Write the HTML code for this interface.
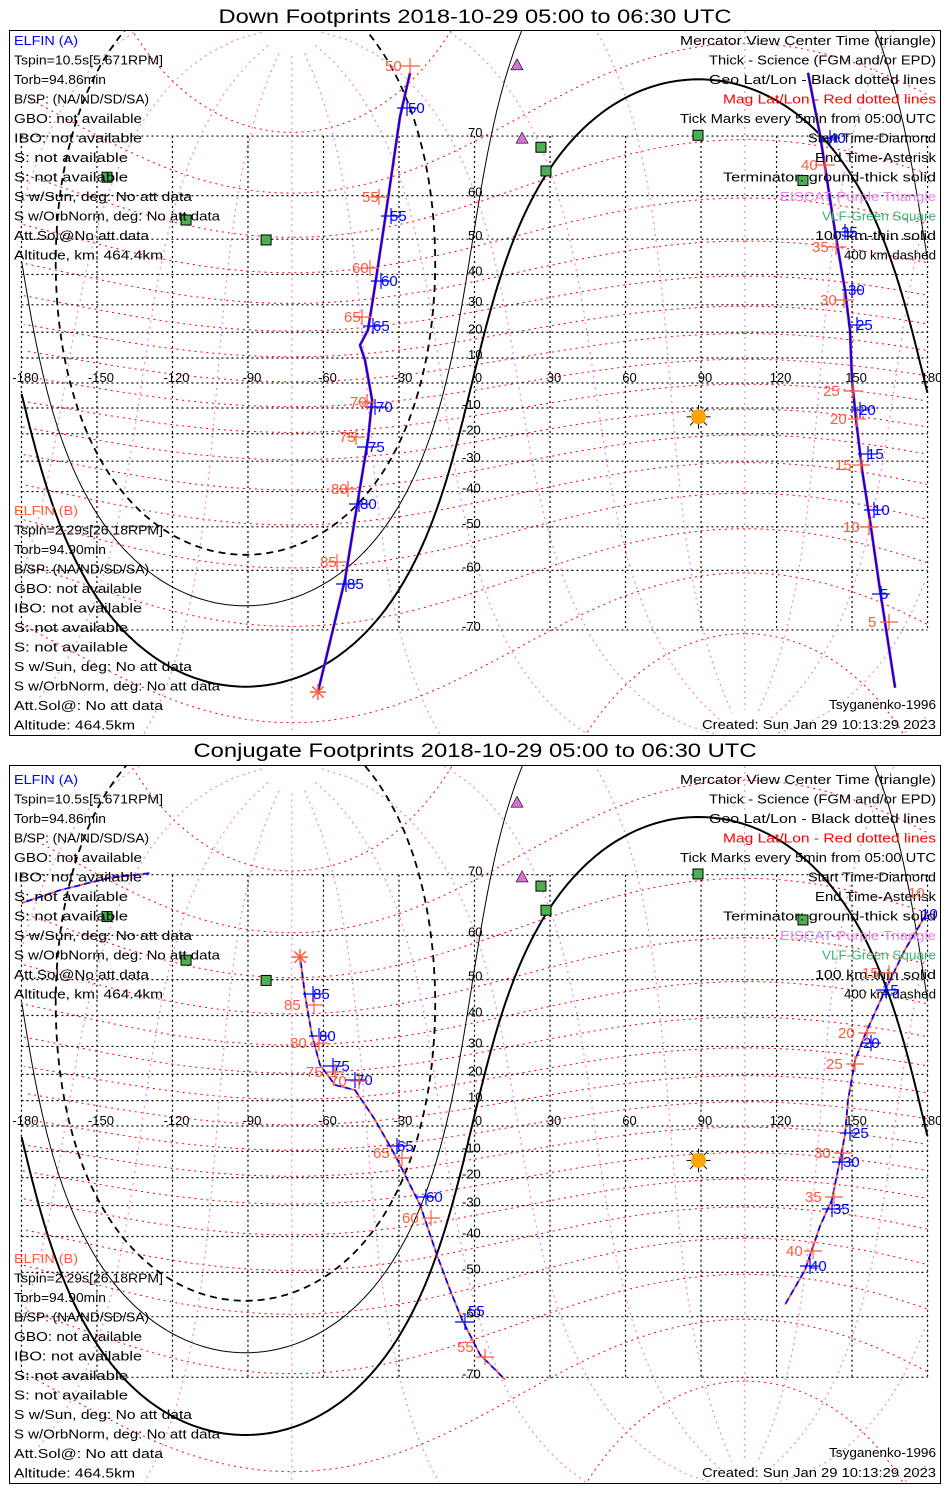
<!DOCTYPE html>
<html><head><meta charset="utf-8"><style>
html,body{margin:0;padding:0;background:#fff;overflow:hidden;width:950px;height:1500px;position:relative;}
svg{display:block;position:absolute;left:0;top:0;font-family:"Liberation Sans",sans-serif;}
.tk{font-size:15px;}
</style></head><body>
<svg id="chart" width="950" height="1500" viewBox="0 0 950 1500" xmlns="http://www.w3.org/2000/svg" overflow="hidden">
<defs>
<clipPath id="clip1"><rect x="10" y="31" width="930" height="703"/></clipPath>
<clipPath id="clip2"><rect x="10" y="766" width="930" height="716"/></clipPath>
</defs>
<rect x="0" y="0" width="950" height="1500" fill="#fff"/>
<text x="475" y="23" text-anchor="middle" font-size="19" textLength="513" lengthAdjust="spacingAndGlyphs">Down Footprints 2018-10-29 05:00 to 06:30 UTC</text>
<text x="475" y="757" text-anchor="middle" font-size="19" textLength="563" lengthAdjust="spacingAndGlyphs">Conjugate Footprints 2018-10-29 05:00 to 06:30 UTC</text>
<g id="p1" clip-path="url(#clip1)"></g>
<g id="p2" clip-path="url(#clip2)"></g>
<g id="ann"></g>
<rect x="9.5" y="30.5" width="931" height="705" fill="none" stroke="#000" stroke-width="1"/>
<rect x="9.5" y="765.5" width="931" height="718" fill="none" stroke="#000" stroke-width="1"/>

<g class="tk">
<text x="408" y="113" fill="#0000ff">50</text><text x="390" y="221" fill="#0000ff">55</text>
<text x="381" y="286" fill="#0000ff">60</text><text x="373" y="331" fill="#0000ff">65</text>
<text x="376" y="412" fill="#0000ff">70</text><text x="368" y="452" fill="#0000ff">75</text>
<text x="360" y="509" fill="#0000ff">80</text><text x="347" y="589" fill="#0000ff">85</text>
<text x="385" y="71" fill="#ff5a3c">50</text><text x="362" y="202" fill="#ff5a3c">55</text>
<text x="352" y="273" fill="#ff5a3c">60</text><text x="344" y="322" fill="#ff5a3c">65</text>
<text x="350" y="407" fill="#ff5a3c">70</text><text x="339" y="442" fill="#ff5a3c">75</text>
<text x="331" y="494" fill="#ff5a3c">80</text><text x="320" y="567" fill="#ff5a3c">85</text>
</g>
<g class="tk">
<text x="829" y="143" fill="#0000ff">40</text><text x="841" y="237" fill="#0000ff">35</text>
<text x="848" y="295" fill="#0000ff">30</text><text x="856" y="330" fill="#0000ff">25</text>
<text x="859" y="415" fill="#0000ff">20</text><text x="867" y="459" fill="#0000ff">15</text>
<text x="873" y="515" fill="#0000ff">10</text><text x="880" y="599" fill="#0000ff">5</text>
<text x="801" y="170" fill="#ff5a3c">40</text><text x="812" y="252" fill="#ff5a3c">35</text>
<text x="820" y="305" fill="#ff5a3c">30</text><text x="823" y="396" fill="#ff5a3c">25</text>
<text x="830" y="424" fill="#ff5a3c">20</text><text x="835" y="470" fill="#ff5a3c">15</text>
<text x="843" y="532" fill="#ff5a3c">10</text><text x="868" y="627" fill="#ff5a3c">5</text>
</g>
<g class="tk">
<text x="313" y="999" fill="#0000ff">85</text><text x="319" y="1041" fill="#0000ff">80</text>
<text x="333" y="1071" fill="#0000ff">75</text><text x="356" y="1085" fill="#0000ff">70</text>
<text x="397" y="1151" fill="#0000ff">65</text><text x="426" y="1202" fill="#0000ff">60</text>
<text x="468" y="1316" fill="#0000ff">55</text>
<text x="284" y="1010" fill="#ff5a3c">85</text><text x="290" y="1048" fill="#ff5a3c">80</text>
<text x="306" y="1077" fill="#ff5a3c">75</text><text x="330" y="1086" fill="#ff5a3c">70</text>
<text x="373" y="1158" fill="#ff5a3c">65</text><text x="402" y="1223" fill="#ff5a3c">60</text>
<text x="457" y="1352" fill="#ff5a3c">55</text>
</g>
<g class="tk">
<text x="921" y="919" fill="#0000ff">10</text><text x="882" y="995" fill="#0000ff">15</text>
<text x="863" y="1048" fill="#0000ff">20</text><text x="852" y="1138" fill="#0000ff">25</text>
<text x="843" y="1167" fill="#0000ff">30</text><text x="833" y="1214" fill="#0000ff">35</text>
<text x="810" y="1271" fill="#0000ff">40</text>
<text x="908" y="898" fill="#ff5a3c">10</text><text x="862" y="978" fill="#ff5a3c">15</text>
<text x="838" y="1038" fill="#ff5a3c">20</text><text x="826" y="1069" fill="#ff5a3c">25</text>
<text x="814" y="1158" fill="#ff5a3c">30</text><text x="805" y="1202" fill="#ff5a3c">35</text>
<text x="786" y="1256" fill="#ff5a3c">40</text>
</g>
<g stroke-width="1.2" fill="none">
<path stroke="#0000ff" d="M397,108h20M407,100v16M381,216h20M391,208v16M371,281h20M381,273v16M363,326h20M373,318v16M365,407h20M375,399v16M357,447h20M367,439v16M349,504h20M359,496v16M336,584h20M346,576v16"/>
<path stroke="#ff5a3c" d="M400,66h20M410,58v16M370,197h18M379,189v16M361,268h18M370,260v16M353,317h18M362,309v16M358,402h18M367,394v16M347,437h18M356,429v16M339,489h18M348,481v16M328,562h18M337,554v16"/>
<path stroke="#0000ff" d="M820,138h20M830,130v16M835,232h20M845,224v16M842,290h20M852,282v16M848,325h18M857,317v16M850,410h20M860,402v16M858,454h20M868,446v16M864,510h20M874,502v16M872,594h18M881,586v16"/>
<path stroke="#ff5a3c" d="M815,165h20M825,157v16M826,247h20M836,239v16M834,300h20M844,292v16M844,391h18M853,383v16M848,419h18M857,411v16M852,465h18M861,457v16M860,527h18M869,519v16M880,622h18M889,614v16"/>
<path stroke="#0000ff" d="M303,994h20M313,986v16M309,1036h20M319,1028v16M323,1066h20M333,1058v16M345,1080h20M355,1072v16M387,1146h20M397,1138v16M416,1197h20M426,1189v16M455,1322h20M465,1314v16"/>
<path stroke="#ff5a3c" d="M305,1005h18M314,997v16M310,1043h18M319,1035v16M326,1072h18M335,1064v16M350,1081h18M359,1073v16M393,1158h18M402,1150v16M422,1218h18M431,1210v16M476,1357h18M485,1349v16"/>
<path stroke="#0000ff" d="M876,990h20M886,982v16M861,1043h20M871,1035v16M840,1133h20M850,1125v16M832,1162h20M842,1154v16M822,1209h20M832,1201v16M800,1266h20M810,1258v16"/>
<path stroke="#ff5a3c" d="M880,973h18M889,965v16M858,1033h18M867,1025v16M846,1064h18M855,1056v16M834,1153h18M843,1145v16M825,1197h18M834,1189v16M804,1251h18M813,1243v16"/>
</g>
</svg>
<script>
// ---- data (lon, lat in degrees) ----
var topWestLon = [-25.6,-29.6,-35.6,-39.5,-42.3,-45.5,-43.5,-40.7,-42.3,-46.3,-51.4,-62.2];
var topWestLat = [77.1,72.5,54.7,36.6,20.9,15.1,9.2,-6.8,-22.2,-42.5,-61.7,-77.0];
var topEastLon = [132.5,137.3,143.2,147.2,149.2,150.0,151.6,154.0,157.1,161.1,167.1];
var topEastLat = [77.1,70.1,52.2,35.0,20.9,1.2,-14.7,-33.1,-48.2,-63.7,-76.6];
var botWestLon = [-69.3,-67.3,-64.6,-61.4,-55.4,-47.5,-39.5,-31.6,-21.6,-14.9,-9.7,-5.0,2.2,12.1];
var botWestLat = [55.4,45.8,33.9,23.5,16.0,14.1,2.4,-11.4,-29.8,-45.4,-54.3,-60.5,-66.7,-70.3];
var botFragLon = [-179.8,-164.7,-144.8,-129.0];
var botFragLat = [65.8,67.8,69.6,70.2];
var botEastLon = [180.0,171.0,163.1,155.1,151.2,148.4,147.2,145.2,142.0,137.3,131.3,123.4];
var botEastLat = [64.3,57.0,47.2,33.8,25.2,10.2,-3.6,-13.3,-28.1,-36.7,-49.4,-57.5];
var fsomLon = [16.9,18.9];
var fsomLat = [77.8,69.7];
var vlfLon = [26.4,28.4,88.8,130.5,-146.0,-114.6,-82.8];
var vlfLat = [68.4,64.6,70.1,62.9,63.5,54.7,49.8];
var sunLon = 89, sunDec = -13.5;
var terminatorDist = [90, 100.1, 109.8];
var magPoleLat = 80.5, magPoleLon = -72.6;
var lonTicks = [-180,-150,-120,-90,-60,-30,0,30,60,90,120,150,180];
var lonTickLabels = ["-180","-150","-120","-90","-60","-30","0","30","60","90","120","150","180"];
var latTicks = [-70,-60,-50,-40,-30,-20,-10,0,10,20,30,40,50,60,70];
var latTickLabels = ["-70","-60","-50","-40","-30","-20","-10","0","10","20","30","40","50","60","70"];

var NS = "http://www.w3.org/2000/svg";
var D2R = Math.PI/180;
function mk(tag, attrs, parent){ var e=document.createElementNS(NS,tag); for(var k in attrs) e.setAttribute(k,attrs[k]); parent.appendChild(e); return e; }
function X(lon){ return 474.5 + lon*2.517; }
function merc(lat){ lat=Math.max(-85,Math.min(85,lat)); return Math.log(Math.tan(Math.PI/4+lat*D2R/2)); }
var panels = [
  {g:document.getElementById('p1'), eq:383, R:142.3, top:31, bot:734},
  {g:document.getElementById('p2'), eq:1126, R:144.8, top:766, bot:1482}
];
function Y(P,lat){ return P.eq - P.R*merc(lat); }
function pathFrom(P, lons, lats){
  var d="", prev=null;
  for(var i=0;i<lons.length;i++){
    var x=X(lons[i]), y=Y(P,lats[i]);
    y=Math.max(P.top-12, Math.min(P.bot+12, y));
    if(prev===null || Math.abs(x-prev)>300) d+="M"+x.toFixed(1)+","+y.toFixed(1);
    else d+="L"+x.toFixed(1)+","+y.toFixed(1);
    prev=x;
  }
  return d;
}
function norm(l){ while(l>180) l-=360; while(l<-180) l+=360; return l; }
function dest(lat1,lon1,dist,brg){
  var p1=lat1*D2R, d=dist*D2R, b=brg*D2R;
  var p2=Math.asin(Math.sin(p1)*Math.cos(d)+Math.cos(p1)*Math.sin(d)*Math.cos(b));
  var l2=lon1*D2R+Math.atan2(Math.sin(b)*Math.sin(d)*Math.cos(p1), Math.cos(d)-Math.sin(p1)*Math.sin(p2));
  return [norm(l2/D2R), p2/D2R];
}

panels.forEach(function(P, pi){
  var g=P.g;
  var gm=mk('g',{},g);
  
  
  for(var ml=-80; ml<=80; ml+=10){
    var lo=[],la=[];
    for(var b=0;b<=360;b+=2){ var q=dest(magPoleLat,magPoleLon,90-ml,b); lo.push(q[0]); la.push(q[1]); }
    var p=mk('path',{d:pathFrom(P,lo,la),fill:'none',stroke:'#ff0000','stroke-width':1,'stroke-dasharray':'2,4'},gm);
    
    
  }
  var gv=mk('g',{},g);
  
  
  for(var mb=0; mb<360; mb+=30){
    var lo2=[],la2=[];
    for(var dd=2; dd<=178; dd+=2){ var q2=dest(magPoleLat,magPoleLon,dd,mb); lo2.push(q2[0]); la2.push(q2[1]); }
    var p2=mk('path',{d:pathFrom(P,lo2,la2),fill:'none',stroke:'#ee82ee','stroke-width':1.2,'stroke-dasharray':'2,4'},gv);
    
    
  }
  var gg=mk('g',{stroke:'#000','stroke-width':1.2,'stroke-dasharray':'2,3',fill:'none'},g);
  
  
  lonTicks.forEach(function(l){ mk('line',{x1:X(l),x2:X(l),y1:Y(P,70),y2:Y(P,-70)},gg); });
  latTicks.forEach(function(l){ mk('line',{x1:X(-180),x2:X(180),y1:Y(P,l),y2:Y(P,l)},gg); });
  var gl=mk('g',{'font-size':13,fill:'#000'},g);
  
  
  lonTicks.forEach(function(l,i){ var t=mk('text',{x:X(l)+4,y:Y(P,0)-1,'text-anchor':'middle'},gl); t.textContent=lonTickLabels[i]; });
  latTicks.forEach(function(l,i){ if(l===0) return; var t=mk('text',{x:(l<0?462:468),y:Y(P,l)+1},gl); t.textContent=latTickLabels[i]; });
  var styles=[{w:2,da:'none',n:'terminator-ground'},{w:1,da:'none',n:'terminator-100km'},{w:1.8,da:'7,5',n:'terminator-400km'}];
  terminatorDist.forEach(function(D,i){
    var lo=[],la=[];
    for(var b=0;b<=360;b+=0.5){ var q=dest(sunDec,sunLon,D,b); lo.push(q[0]); la.push(q[1]); }
    var st={d:pathFrom(P,lo,la),fill:'none',stroke:'#000','stroke-width':styles[i].w};
    if(styles[i].da!=='none') st['stroke-dasharray']=styles[i].da;
    var tp=mk('path',st,g);
    
    
  });
  var sx=X(sunLon), sy=Y(P,sunDec);
  var sg=mk('g',{},g);
  
  
  for(var a=0;a<360;a+=45){ mk('line',{x1:sx,y1:sy,x2:sx+12*Math.cos(a*D2R),y2:sy+12*Math.sin(a*D2R),stroke:'#000','stroke-width':1},sg); }
  mk('circle',{cx:sx,cy:sy,r:7.5,fill:'#ffa500'},sg);
  fsomLon.forEach(function(l,i){ var x=X(l),y=Y(P,fsomLat[i]);
    var t=mk('polygon',{points:(x-6)+","+(y+5)+" "+(x+6)+","+(y+5)+" "+x+","+(y-6),fill:'#da70d6',stroke:'#000','stroke-width':0.6},g);
    
     });
  vlfLon.forEach(function(l,i){ var x=X(l),y=Y(P,vlfLat[i]);
    var s=mk('rect',{x:x-5,y:y-5,width:10,height:10,fill:'#4caf50',stroke:'#000','stroke-width':1},g);
    
     });
  var tracks = pi===0 ? [[topWestLon,topWestLat],[topEastLon,topEastLat]] : [[botWestLon,botWestLat],[botFragLon,botFragLat],[botEastLon,botEastLat]];
  tracks.forEach(function(tr){
    var d=pathFrom(P,tr[0],tr[1]);
    var r=mk('path',{d:d,fill:'none',stroke:'#ff5a3c','stroke-width':pi===0?3:1.8},g);
    if(pi===1) r.setAttribute('stroke-dasharray','6,4');
    
    
    var bl=mk('path',{d:d,fill:'none',stroke:'#0000ff','stroke-width':pi===0?2:1.8},g);
    if(pi===1){ bl.setAttribute('stroke-dasharray','6,4'); bl.setAttribute('stroke-dashoffset','5'); }
    
    
  });
  var ex = pi===0 ? X(topWestLon[topWestLon.length-1]) : X(botWestLon[0]);
  var ey = pi===0 ? Y(P,topWestLat[topWestLat.length-1]) : Y(P,botWestLat[0]);
  var ag=mk('g',{stroke:'#ff5a3c','stroke-width':1.5},g);
  
  
  for(var k=0;k<180;k+=45){ mk('line',{x1:ex-8*Math.cos(k*D2R),y1:ey-8*Math.sin(k*D2R),x2:ex+8*Math.cos(k*D2R),y2:ey+8*Math.sin(k*D2R)},ag); }
});

var leftA=["Tspin=10.5s[5.671RPM]","Torb=94.86min","B/SP: (NA/ND/SD/SA)","GBO: not available","IBO: not available","S: not available","S: not available","S w/Sun, deg: No att data","S w/OrbNorm, deg: No att data","Att.Sol@No att data","Altitude, km: 464.4km"];
var leftB=["Tspin=2.29s[26.18RPM]","Torb=94.90min","B/SP: (NA/ND/SD/SA)","GBO: not available","IBO: not available","S: not available","S: not available","S w/Sun, deg: No att data","S w/OrbNorm, deg: No att data","Att.Sol@: No att data","Altitude: 464.5km"];
var rightL=[["Mercator View Center Time (triangle)","#000"],["Thick - Science (FGM and/or EPD)","#000"],["Geo Lat/Lon - Black dotted lines","#000"],["Mag Lat/Lon - Red dotted lines","#ff0000"],["Tick Marks every 5min from 05:00 UTC","#000"],["Start Time-Diamond","#000"],["End Time-Asterisk","#000"],["Terminator: ground-thick solid","#000"],["EISCAT-Purple Triangle","#ee82ee"],["VLF-Green Square","#3cb371"],["100 km-thin solid","#000"],["400 km-dashed","#000"]];
var ann=document.getElementById('ann');
function txt(s,x,y,col,anchor,name){
  var t=mk('text',{x:x,y:y,fill:col,'font-size':12.5,'text-anchor':anchor||'start',textLength:(s.length*7.1).toFixed(0),lengthAdjust:'spacingAndGlyphs'},ann);
  t.textContent=s;
  
  
}
[[0,0],[739,748]].forEach(function(o){
  var dy=o[0], db=o[1], step=19.5;
  txt("ELFIN (A)",14,45+dy,"#0000ff","start","elfin-a-label");
  leftA.forEach(function(s,i){ txt(s,14,45+dy+step*(i+1),"#000","start","elfin-a-info"); });
  txt("ELFIN (B)",14,515+db,"#ff5a3c","start","elfin-b-label");
  leftB.forEach(function(s,i){ txt(s,14,515+db+step*(i+1),"#000","start","elfin-b-info"); });
  rightL.forEach(function(r,i){ txt(r[0],936,45+dy+step*i,r[1],"end","legend-entry"); });
  txt("Tsyganenko-1996",936,709+db,"#000","end","model-label");
  txt("Created: Sun Jan 29 10:13:29 2023",936,729+db,"#000","end","created-label");
});
</script>
</body></html>
